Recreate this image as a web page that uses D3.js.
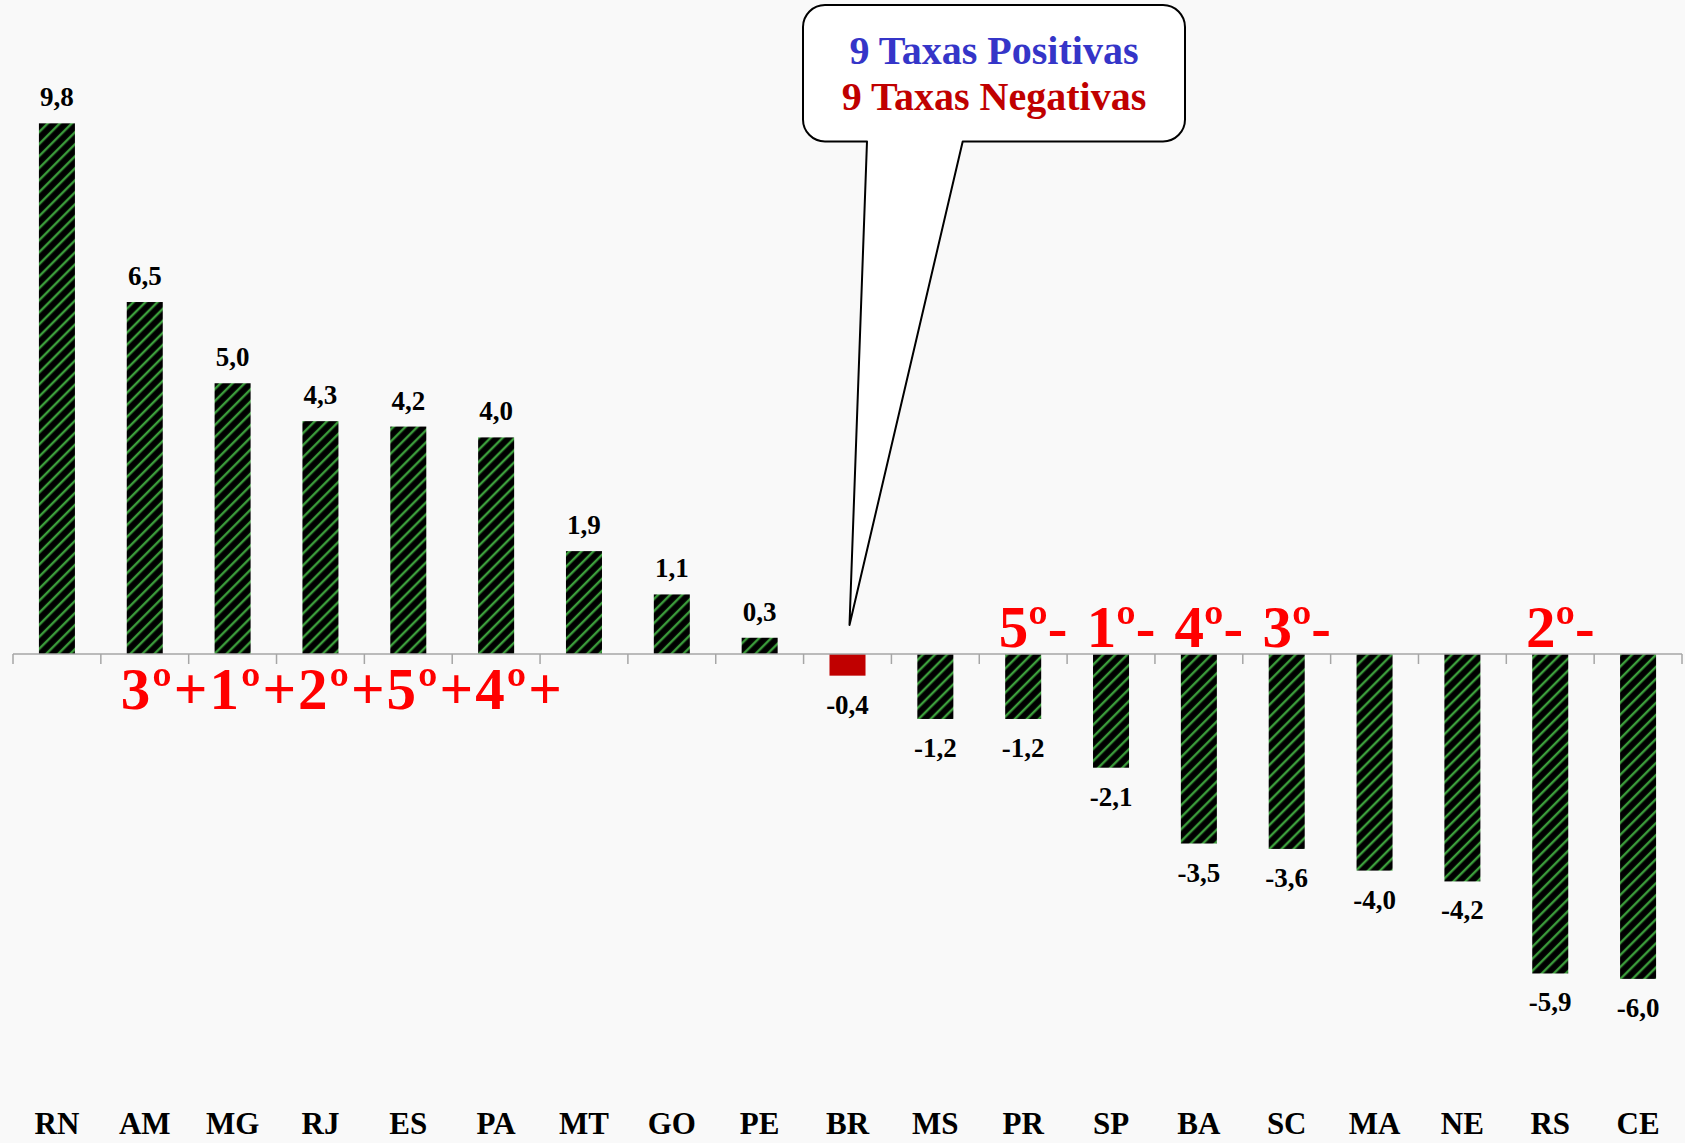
<!DOCTYPE html>
<html>
<head>
<meta charset="utf-8">
<script src="https://cdn.jsdelivr.net/npm/d3@7"></script>
<style>
  body { margin: 0; background: #f9f9f9; }
  svg { display: block; }
  text { font-family: "Liberation Serif", "Times New Roman", serif; font-weight: bold; }
</style>
</head>
<body>
<main id="main"></main>
<script>
// states (and BR) ordered as in the chart
const categories = ["RN", "AM", "MG", "RJ", "ES", "PA", "MT", "GO", "PE", "BR",
  "MS", "PR", "SP", "BA", "SC", "MA", "NE", "RS", "CE"];
const values = [9.8, 6.5, 5.0, 4.3, 4.2, 4.0, 1.9, 1.1, 0.3, -0.4,
  -1.2, -1.2, -2.1, -3.5, -3.6, -4.0, -4.2, -5.9, -6.0];
const highlight = "BR";

// ranking annotations
const posRankCats = ["AM", "MG", "RJ", "ES", "PA"];
const posRanks = ["3º+", "1º+", "2º+", "5º+", "4º+"];
const negRankCats = ["PR", "SP", "BA", "SC", "RS"];
const negRanks = ["5º-", "1º-", "4º-", "3º-", "2º-"];

const calloutLines = ["9 Taxas Positivas", "9 Taxas Negativas"];
const calloutColors = ["#3535c8", "#c00000"];

const W = 1685, H = 1143;
const fmt = (v) => v.toFixed(1).replace(".", ",");

function main() {
  const svg = d3.select("#main").append("svg")
    .attr("width", W).attr("height", H);

  svg.append("rect").attr("width", W).attr("height", H).attr("fill", "#f9f9f9");

  const defs = svg.append("defs");
  const pat = defs.append("pattern")
    .attr("id", "stripes")
    .attr("patternUnits", "userSpaceOnUse")
    .attr("width", 8.5).attr("height", 8.5)
    .attr("patternTransform", "rotate(45)");
  pat.append("rect").attr("width", 8.5).attr("height", 8.5).attr("fill", "#000");
  pat.append("line")
    .attr("x1", 2).attr("y1", 0).attr("x2", 2).attr("y2", 8.5)
    .attr("stroke", "#3c9f3c").attr("stroke-width", 2.4);

  const x = d3.scaleBand()
    .domain(categories)
    .range([13, 1682])
    .paddingInner(0.59)
    .paddingOuter(0.295);

  const y = d3.scaleLinear()
    .domain([-8, 11])
    .range([654 + 8 * 54.15, 654 - 11 * 54.15]);

  const y0 = y(0);
  const step = x.step();
  const bandStart = (c) => x(c) + x.bandwidth() / 2 - step / 2;

  // bars
  svg.selectAll("rect.bar")
    .data(categories)
    .enter()
    .append("rect")
    .attr("class", "bar")
    .attr("x", (c) => x(c))
    .attr("width", x.bandwidth())
    .attr("y", (c, i) => Math.min(y(values[i]), y0))
    .attr("height", (c, i) => Math.abs(y(values[i]) - y0))
    .attr("fill", (c) => (c === highlight ? "#c00000" : "url(#stripes)"));

  // axis line with ticks between categories
  const ax = svg.append("g").attr("stroke", "#a6a6a6").attr("stroke-width", 1.5);
  ax.append("line")
    .attr("x1", x.range()[0]).attr("x2", x.range()[1])
    .attr("y1", y0).attr("y2", y0);
  const tickXs = categories.map(bandStart).concat([x.range()[1]]);
  ax.selectAll("line.tick")
    .data(tickXs)
    .enter()
    .append("line")
    .attr("class", "tick")
    .attr("x1", (d) => d).attr("x2", (d) => d)
    .attr("y1", y0).attr("y2", y0 + 10);

  // value labels
  svg.selectAll("text.val")
    .data(categories)
    .enter()
    .append("text")
    .attr("class", "val")
    .attr("x", (c) => x(c) + x.bandwidth() / 2)
    .attr("y", (c, i) => (values[i] >= 0 ? y(values[i]) - 17 : y(values[i]) + 38))
    .attr("text-anchor", "middle")
    .attr("font-size", 27)
    .attr("fill", "#000")
    .text((c, i) => fmt(values[i]));

  // category labels at the bottom
  svg.selectAll("text.cat")
    .data(categories)
    .enter()
    .append("text")
    .attr("class", "cat")
    .attr("x", (c) => x(c) + x.bandwidth() / 2)
    .attr("y", 1134)
    .attr("text-anchor", "middle")
    .attr("font-size", 31)
    .attr("fill", "#000")
    .text((c) => c);

  // positive ranks: one running string under the bars
  svg.append("text")
    .attr("x", bandStart(posRankCats[0]) + 20)
    .attr("y", y0 + 55)
    .attr("font-size", 59)
    .attr("letter-spacing", 2)
    .attr("fill", "#ff0000")
    .text(posRanks.join(""));

  // negative ranks above the axis
  svg.selectAll("text.neg")
    .data(negRankCats)
    .enter()
    .append("text")
    .attr("class", "neg")
    .attr("x", (c) => x(c) + x.bandwidth() / 2 + 10)
    .attr("y", y0 - 7)
    .attr("text-anchor", "middle")
    .attr("font-size", 59)
    .attr("fill", "#ff0000")
    .text((c, i) => negRanks[i]);

  // callout pointing at BR
  const tipX = x(highlight) + x.bandwidth() / 2 + 2;
  const tipY = y0 - 29;
  const L = 803, R = 1185, T = 5, B = 141.5, r = 22;
  const path = d3.path();
  path.moveTo(L + r, T);
  path.lineTo(R - r, T);
  path.arcTo(R, T, R, T + r, r);
  path.lineTo(R, B - r);
  path.arcTo(R, B, R - r, B, r);
  path.lineTo(962.7, B);
  path.lineTo(tipX, tipY);
  path.lineTo(867, B);
  path.lineTo(L + r, B);
  path.arcTo(L, B, L, B - r, r);
  path.lineTo(L, T + r);
  path.arcTo(L, T, L + r, T, r);
  path.closePath();
  svg.append("path")
    .attr("d", path.toString())
    .attr("fill", "#fff")
    .attr("stroke", "#000")
    .attr("stroke-width", 2)
    .attr("stroke-linejoin", "round");

  svg.selectAll("text.callout")
    .data(calloutLines)
    .enter()
    .append("text")
    .attr("class", "callout")
    .attr("x", (L + R) / 2)
    .attr("y", (d, i) => 64 + i * 46)
    .attr("text-anchor", "middle")
    .attr("font-size", 40)
    .attr("fill", (d, i) => calloutColors[i])
    .text((d) => d);
}

window.onload = main;
</script>
</body>
</html>
